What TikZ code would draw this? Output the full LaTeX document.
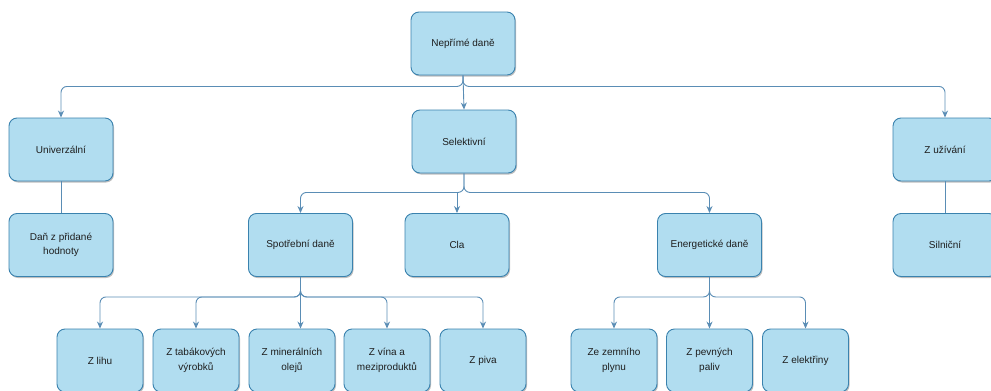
\documentclass[tikz,border=0pt]{standalone}
\usepackage{fontspec}
\setmainfont{Liberation Sans}
\usetikzlibrary{arrows.meta,shadows}
\definecolor{boxfill}{HTML}{B1DDF0}
\definecolor{boxdraw}{HTML}{3A82AE}
\definecolor{linecol}{HTML}{5A8DB5}
\definecolor{txt}{HTML}{1E1E1E}
\begin{document}
\begin{tikzpicture}[x=1pt,y=-1pt,
  box/.style={draw=boxdraw, fill=boxfill, line width=0.9pt, rounded corners=8pt,
    minimum width=104pt, minimum height=63pt, inner sep=2pt, align=center,
    text=txt, font=\fontsize{10}{14.5}\selectfont,
    drop shadow={shadow xshift=1pt, shadow yshift=-1.5pt, opacity=0.25, fill=black}},
  small/.style={box, minimum width=86pt},
  conn/.style={draw=linecol, line width=0.9pt, rounded corners=6pt},
  arr/.style={conn, -{Stealth[length=7pt,width=6pt]}}
]
\useasboundingbox (0,0) rectangle (991,391);
% nodes
\node[box] (top) at (463,43.5) {Nepřímé daně};
\node[box] (univ) at (61,149.5) {Univerzální};
\node[box] (sel) at (464,141.5) {Selektivní};
\node[box] (uziv) at (945,149.5) {Z užívání};
\node[box] (dph) at (61,245) {Daň z přidané\\hodnoty};
\node[box] (spot) at (300.5,245) {Spotřební daně};
\node[box] (cla) at (457,245) {Cla};
\node[box] (ener) at (709.5,245) {Energetické daně};
\node[box] (siln) at (945,245) {Silniční};
\node[small] (lih) at (100,360.5) {Z lihu};
\node[small] (tab) at (196,360.5) {Z tabákových\\výrobků};
\node[small] (min) at (292,360.5) {Z minerálních\\olejů};
\node[small] (vina) at (387,360.5) {Z vína a\\meziproduktů};
\node[small] (piva) at (483,360.5) {Z piva};
\node[small] (zemni) at (614,360.5) {Ze zemního\\plynu};
\node[small] (pevn) at (709.5,360.5) {Z pevných\\paliv};
\node[small] (elek) at (805.5,360.5) {Z elektřiny};
% connectors level 1
\draw[arr] (top.south) -- ++(0,11) -| (univ.north);
\draw[arr] (top.south) -- ++(0,11) -| (uziv.north);
\draw[arr] (top.south) -- (sel.north);
\draw[conn] (univ.south) -- (dph.north);
\draw[conn] (uziv.south) -- (siln.north);
% level 2
\coordinate (selbus) at ([yshift=-19pt]sel.south);
\draw[arr] (sel.south) -- (selbus) -| (spot.north);
\draw[arr] (sel.south) -- (selbus) -| (ener.north);
\draw[arr] (cla.north |- selbus) -- (cla.north);
% level 3
\draw[arr] (spot.south) -- ++(0,20) -| (lih.north);
\draw[arr] (spot.south) -- ++(0,20) -| (tab.north);
\draw[arr] (spot.south) -- ++(0,20) -| (vina.north);
\draw[arr] (spot.south) -- ++(0,20) -| (piva.north);
\draw[arr] (spot.south) -- (spot.south |- min.north);
\draw[arr] (ener.south) -- ++(0,20) -| (zemni.north);
\draw[arr] (ener.south) -- ++(0,20) -| (elek.north);
\draw[arr] (ener.south) -- (pevn.north);
\end{tikzpicture}
\end{document}
